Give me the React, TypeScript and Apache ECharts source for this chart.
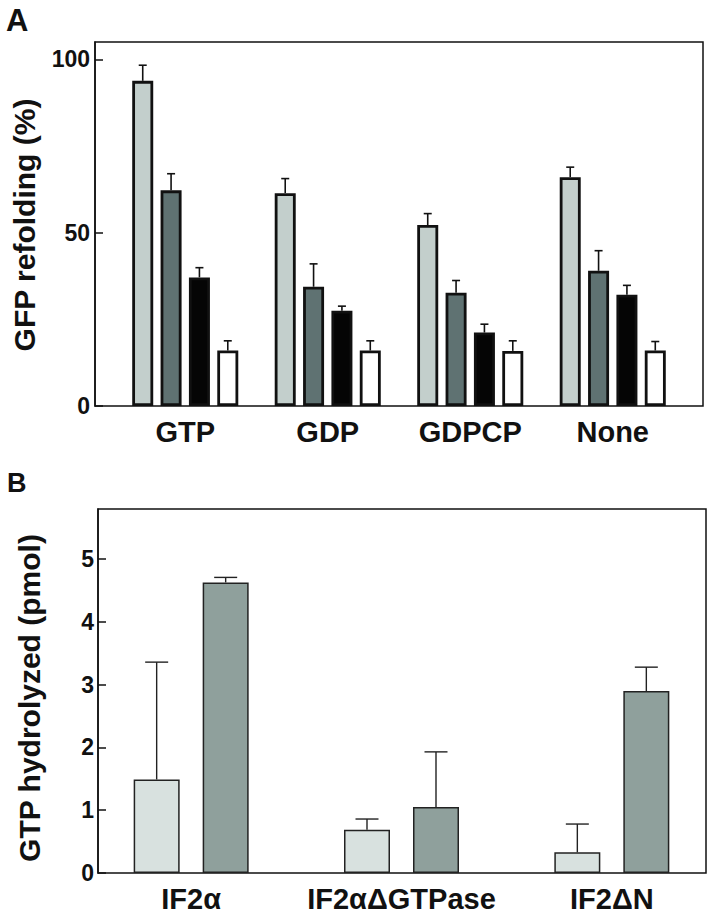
import React, { useEffect, useRef } from "react";
import * as echarts from "echarts";

// ---------- Panel A data ----------
const catsA = ["GTP", "GDP", "GDPCP", "None"];
const a1 = [93.8, 61.4, 52.2, 66.0];
const a1Err = [4.5, 4.2, 3.3, 2.9];
const a2 = [62.2, 34.4, 32.7, 39.0];
const a2Err = [4.8, 6.6, 3.5, 5.8];
const a3 = [37.1, 27.5, 21.2, 32.1];
const a3Err = [2.8, 1.3, 2.4, 2.7];
const a4 = [16.0, 16.0, 15.9, 16.0];
const a4Err = [2.8, 2.8, 2.9, 2.6];
const colorsA = ["#c3cfcc", "#5f7272", "#050505", "#ffffff"];
const ticksA = [0, 50, 100];

// ---------- Panel B data ----------
const catsB = ["IF2\u03b1", "IF2\u03b1\u0394GTPase", "IF2\u0394N"];
const b1 = [1.49, 0.69, 0.33];
const b1Err = [1.87, 0.17, 0.45];
const b2 = [4.63, 1.05, 2.9];
const b2Err = [0.08, 0.88, 0.38];
const colorsB = ["#d8e1df", "#8fa09c"];
const ticksB = [0, 1, 2, 3, 4, 5];

const FONT = "'Liberation Sans', Arial, Helvetica, sans-serif";
const INK = "#111111";

function errSeries(
  values: number[],
  errs: number[],
  offset: number,
  capHalf: number,
  color: string,
  lw: number,
  axisIdx: number
) {
  return {
    type: "custom",
    xAxisIndex: axisIdx,
    yAxisIndex: axisIdx,
    z: 5,
    silent: true,
    encode: { x: 0, y: 1 },
    data: values.map((v, i) => [i, v, errs[i]]),
    renderItem: (params: any, api: any) => {
      const ci = api.value(0);
      const v = api.value(1);
      const e = api.value(2);
      const base = api.coord([ci, v]);
      const top = api.coord([ci, v + e]);
      const x = base[0] + offset;
      return {
        type: "group",
        children: [
          {
            type: "line",
            shape: { x1: x, y1: base[1], x2: x, y2: top[1] },
            style: { stroke: color, lineWidth: lw },
          },
          {
            type: "line",
            shape: { x1: x - capHalf, y1: top[1], x2: x + capHalf, y2: top[1] },
            style: { stroke: color, lineWidth: lw },
          },
        ],
      };
    },
  };
}

export default function App() {
  const ref = useRef<HTMLDivElement>(null);
  useEffect(() => {
    document.body.style.margin = "0";
    if (!ref.current) return;
    const chart = echarts.init(ref.current, undefined, { renderer: "svg" });

    const barWA = 21;
    const gapA = 0.35;
    const pitchA = barWA * (1 + gapA);
    const barWB = 46;
    const gapB = 0.5;
    const pitchB = barWB * (1 + gapB);

    const seriesA = [a1, a2, a3, a4].map((d, i) => ({
      type: "bar",
      xAxisIndex: 1,
      yAxisIndex: 1,
      data: d,
      barWidth: barWA,
      barGap: gapA * 100 + "%",
      itemStyle: { color: colorsA[i], borderColor: INK, borderWidth: 2.8 },
    }));
    const errsA = [
      [a1, a1Err],
      [a2, a2Err],
      [a3, a3Err],
      [a4, a4Err],
    ].map(([v, e], i) =>
      errSeries(v as number[], e as number[], (i - 1.5) * pitchA, 4, INK, 1.6, 1)
    );

    const seriesB = [b1, b2].map((d, i) => ({
      type: "bar",
      xAxisIndex: 3,
      yAxisIndex: 3,
      data: d,
      barWidth: barWB,
      barGap: gapB * 100 + "%",
      itemStyle: { color: colorsB[i], borderColor: "#222", borderWidth: 1.5 },
    }));
    const errsB = [
      [b1, b1Err],
      [b2, b2Err],
    ].map(([v, e], i) =>
      errSeries(v as number[], e as number[], (i - 0.5) * pitchB, 11.5, "#222", 1.4, 3)
    );

    const hiddenAxis = (gi: number) => ({ gridIndex: gi, type: "value", show: false });
    const gridBase = { containLabel: false, outerBoundsMode: "none" };

    const tickLabel = (ticks: number[], margin: number) => ({
      fontFamily: FONT,
      fontWeight: "bold",
      fontSize: 23,
      color: INK,
      margin,
      showMaxLabel: false,
      formatter: (v: number) => (ticks.indexOf(v) >= 0 ? String(v) : ""),
    });

    chart.setOption({
      animation: false,
      backgroundColor: "#ffffff",
      grid: [
        { ...gridBase, left: 95, top: 42, width: 608, height: 364, show: true, borderColor: INK, borderWidth: 1.5, backgroundColor: "transparent" },
        { ...gridBase, left: 114, top: 42, width: 570, height: 364 },
        { ...gridBase, left: 98, top: 509, width: 608, height: 364, show: true, borderColor: INK, borderWidth: 1.5, backgroundColor: "transparent" },
        { ...gridBase, left: 86, top: 509, width: 631, height: 364 },
      ],
      xAxis: [
        hiddenAxis(0),
        {
          gridIndex: 1,
          type: "category",
          data: catsA,
          axisLine: { show: false },
          axisTick: { show: false },
          axisLabel: { interval: 0, fontFamily: FONT, fontWeight: "bold", fontSize: 29, color: INK, margin: 11 },
        },
        hiddenAxis(2),
        {
          gridIndex: 3,
          type: "category",
          data: catsB,
          axisLine: { show: false },
          axisTick: { show: false },
          axisLabel: { interval: 0, hideOverlap: false, fontFamily: FONT, fontWeight: "bold", fontSize: 29, color: INK, margin: 11 },
        },
      ],
      yAxis: [
        hiddenAxis(0),
        {
          gridIndex: 1,
          type: "value",
          min: 0,
          max: 105,
          interval: 50,
          offset: 19,
          splitLine: { show: false },
          axisLine: { show: true, lineStyle: { color: INK, width: 1.5 } },
          axisTick: { show: true, inside: true, length: 8, lineStyle: { color: INK, width: 1.5 } },
          axisLabel: tickLabel(ticksA, 5),
        },
        hiddenAxis(2),
        {
          gridIndex: 3,
          type: "value",
          min: 0,
          max: 5.8,
          interval: 1,
          offset: -12,
          splitLine: { show: false },
          axisLine: { show: true, lineStyle: { color: INK, width: 1.5 } },
          axisTick: { show: true, inside: true, length: 8, lineStyle: { color: INK, width: 1.5 } },
          axisLabel: tickLabel(ticksB, 4),
        },
      ],
      graphic: [
        { type: "text", left: 6, top: 5, style: { text: "A", font: `bold 31px ${FONT}`, fill: INK } },
        { type: "text", left: 7, top: 469, style: { text: "B", font: `bold 27px ${FONT}`, fill: INK } },
        {
          type: "text",
          x: 24,
          y: 225,
          rotation: Math.PI / 2,
          style: { text: "GFP refolding (%)", font: `bold 30px ${FONT}`, fill: INK, align: "center", verticalAlign: "middle" },
        },
        {
          type: "text",
          x: 29,
          y: 698,
          rotation: Math.PI / 2,
          style: { text: "GTP hydrolyzed (pmol)", font: `bold 30px ${FONT}`, fill: INK, align: "center", verticalAlign: "middle" },
        },
      ],
      series: [...seriesA, ...errsA, ...seriesB, ...errsB],
    });
    return () => chart.dispose();
  }, []);
  return <div ref={ref} style={{ position: "absolute", left: 0, top: 0, width: 709, height: 914 }} />;
}
